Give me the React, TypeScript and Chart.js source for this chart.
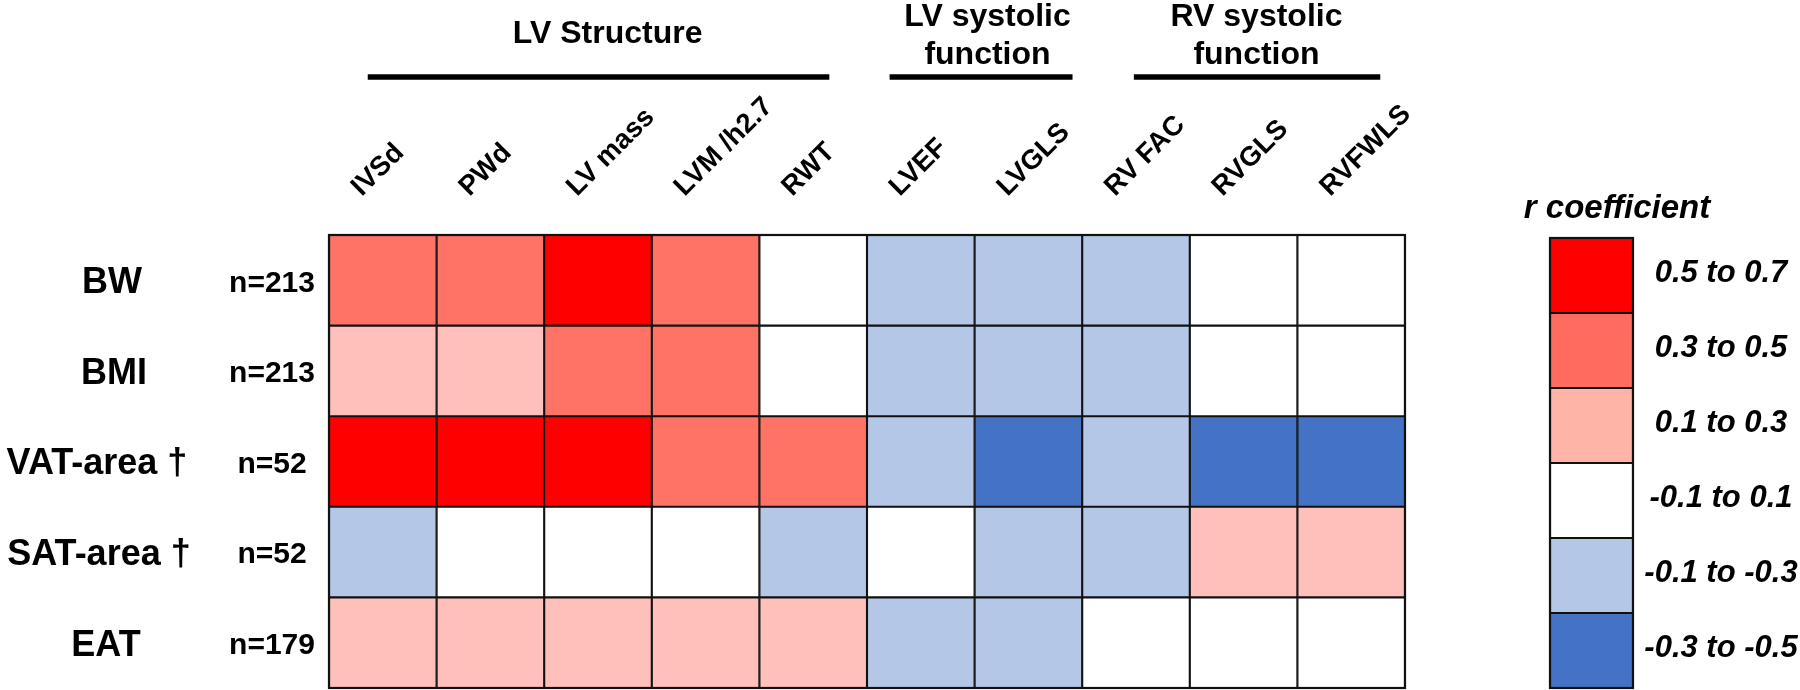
import React, { useEffect, useRef } from "react";
import { Chart, registerables } from "chart.js";

Chart.register(...registerables);

// ---------- data ----------
const columns = ["IVSd", "PWd", "LV mass", "LVM /h2.7", "RWT", "LVEF", "LVGLS", "RV FAC", "RVGLS", "RVFWLS"];
const rowLabels = ["BW", "BMI", "VAT-area \u2020", "SAT-area \u2020", "EAT"];
const rowN = ["n=213", "n=213", "n=52", "n=52", "n=179"];

const bwValues = [0.4, 0.4, 0.6, 0.4, 0, -0.2, -0.2, -0.2, 0, 0];
const bmiValues = [0.2, 0.2, 0.4, 0.4, 0, -0.2, -0.2, -0.2, 0, 0];
const vatValues = [0.6, 0.6, 0.6, 0.4, 0.4, -0.2, -0.4, -0.2, -0.4, -0.4];
const satValues = [-0.2, 0, 0, 0, -0.2, 0, -0.2, -0.2, 0.2, 0.2];
const eatValues = [0.2, 0.2, 0.2, 0.2, 0.2, -0.2, -0.2, 0, 0, 0];
const rowValues = [bwValues, bmiValues, vatValues, satValues, eatValues];

const groupTitles = [["LV Structure"], ["LV systolic", "function"], ["RV systolic", "function"]];

// legend bands, bottom to top
const bandLabels = ["-0.3 to -0.5", "-0.1 to -0.3", "-0.1 to 0.1", "0.1 to 0.3", "0.3 to 0.5", "0.5 to 0.7"];
const bandLower = [-0.5, -0.3, -0.1, 0.1, 0.3, 0.5];
const cellColors = ["#4472C4", "#B4C7E7", "#FFFFFF", "#FFBFBA", "#FF7266", "#FF0000"];
const legendColors = ["#4472C4", "#B4C7E7", "#FFFFFF", "#FFB4A8", "#FF6B5F", "#FF0000"];

// ---------- layout ----------
const FONT = '"Liberation Sans", Arial, sans-serif';
const groupSpans = [
  { text: 2.09, from: -0.14, to: 4.15 },
  { text: 5.62, from: 4.71, to: 6.41 },
  { text: 8.12, from: 6.98, to: 9.27 },
];
const rowLabelX = [112, 114, 97, 99, 106];

function bandIndex(v: number) {
  let idx = 0;
  for (let i = 0; i < bandLower.length; i++) if (v >= bandLower[i] - 1e-9) idx = i;
  return idx;
}

const mainTextPlugin = {
  id: "mainTexts",
  afterDraw(chart: any) {
    const { ctx, chartArea } = chart;
    const x = chart.scales.x;
    const y = chart.scales.y;
    ctx.save();
    // outer frame
    ctx.strokeStyle = "#111";
    ctx.lineWidth = 2.2;
    ctx.strokeRect(chartArea.left, chartArea.top, chartArea.right - chartArea.left, chartArea.bottom - chartArea.top);

    ctx.fillStyle = "#000";
    // row labels
    ctx.textBaseline = "middle";
    ctx.textAlign = "center";
    rowLabels.forEach((lab, r) => {
      const cy = y.getPixelForValue(rowLabels.length - r - 0.5) + 3;
      ctx.font = `bold 36px ${FONT}`;
      ctx.fillText(lab, rowLabelX[r], cy);
      ctx.font = `bold 30px ${FONT}`;
      ctx.fillText(rowN[r], 272, cy);
    });

    // column labels, rotated
    ctx.font = `bold 27.5px ${FONT}`;
    ctx.textAlign = "left";
    ctx.textBaseline = "alphabetic";
    columns.forEach((lab, i) => {
      const cx = x.getPixelForValue(i);
      ctx.save();
      ctx.translate(cx - 21, 197);
      ctx.rotate(-Math.PI / 4);
      ctx.fillText(lab, 0, 0);
      ctx.restore();
    });

    // group headers
    ctx.font = `bold 32px ${FONT}`;
    ctx.textAlign = "center";
    groupTitles.forEach((lines, g) => {
      const sp = groupSpans[g];
      const tx = x.getPixelForValue(sp.text);
      if (lines.length === 1) {
        ctx.fillText(lines[0], tx, 43);
      } else {
        ctx.fillText(lines[0], tx, 26);
        ctx.fillText(lines[1], tx, 64);
      }
      ctx.beginPath();
      ctx.lineWidth = 5.5;
      ctx.strokeStyle = "#000";
      ctx.moveTo(x.getPixelForValue(sp.from), 77);
      ctx.lineTo(x.getPixelForValue(sp.to), 77);
      ctx.stroke();
    });
    ctx.restore();
  },
};

const legendTextPlugin = {
  id: "legendTexts",
  afterDraw(chart: any) {
    const { ctx, chartArea } = chart;
    const y = chart.scales.y;
    ctx.save();
    ctx.strokeStyle = "#111";
    ctx.lineWidth = 2.2;
    ctx.strokeRect(chartArea.left, chartArea.top, chartArea.right - chartArea.left, chartArea.bottom - chartArea.top);
    ctx.fillStyle = "#000";
    ctx.textAlign = "center";
    ctx.textBaseline = "middle";
    ctx.font = `italic bold 31px ${FONT}`;
    bandLabels.forEach((lab, i) => {
      ctx.fillText(lab, 1721, y.getPixelForValue(i + 0.5) - 2);
    });
    ctx.font = `italic bold 33px ${FONT}`;
    ctx.textBaseline = "alphabetic";
    ctx.fillText("r coefficient", 1617, 218);
    ctx.restore();
  },
};

export default function App() {
  const mainRef = useRef<HTMLCanvasElement>(null);
  const legRef = useRef<HTMLCanvasElement>(null);

  useEffect(() => {
    const nRows = rowLabels.length;
    const mainChart = new Chart(mainRef.current as HTMLCanvasElement, {
      type: "bar",
      data: {
        labels: columns,
        datasets: rowValues.map((vals, r) => ({
          label: rowLabels[r],
          data: vals.map(() => [nRows - r - 1, nRows - r]),
          backgroundColor: vals.map((v) => cellColors[bandIndex(v)]),
          borderColor: "#111",
          borderWidth: 1.4,
          borderSkipped: false,
          barPercentage: 1,
          categoryPercentage: 1,
          grouped: false,
        })) as any,
      },
      options: {
        animation: false,
        responsive: false,
        maintainAspectRatio: false,
        layout: { padding: { left: 329, top: 235, right: 395, bottom: 2 } },
        scales: {
          x: { display: false, offset: true },
          y: { display: false, min: 0, max: nRows },
        },
        plugins: {
          legend: { display: false },
          tooltip: { enabled: false },
          title: { display: false },
        },
      } as any,
      plugins: [mainTextPlugin],
    });

    const legendChart = new Chart(legRef.current as HTMLCanvasElement, {
      type: "bar",
      data: {
        labels: ["r"],
        datasets: bandLabels.map((lab, i) => ({
          label: lab,
          data: [[i, i + 1]],
          backgroundColor: legendColors[i],
          borderColor: "#111",
          borderWidth: 1.4,
          borderSkipped: false,
          barPercentage: 1,
          categoryPercentage: 1,
          grouped: false,
        })) as any,
      },
      options: {
        animation: false,
        responsive: false,
        maintainAspectRatio: false,
        layout: { padding: { left: 1550, top: 238, right: 167, bottom: 2 } },
        scales: {
          x: { display: false, offset: true },
          y: { display: false, min: 0, max: bandLabels.length },
        },
        plugins: {
          legend: { display: false },
          tooltip: { enabled: false },
          title: { display: false },
        },
      } as any,
      plugins: [legendTextPlugin],
    });

    return () => {
      mainChart.destroy();
      legendChart.destroy();
    };
  }, []);

  return (
    <div style={{ position: "fixed", left: 0, top: 0, width: 1800, height: 690, background: "#fff" }}>
      <canvas ref={mainRef} width={1800} height={690} style={{ position: "absolute", left: 0, top: 0 }} />
      <canvas ref={legRef} width={1800} height={690} style={{ position: "absolute", left: 0, top: 0 }} />
    </div>
  );
}
